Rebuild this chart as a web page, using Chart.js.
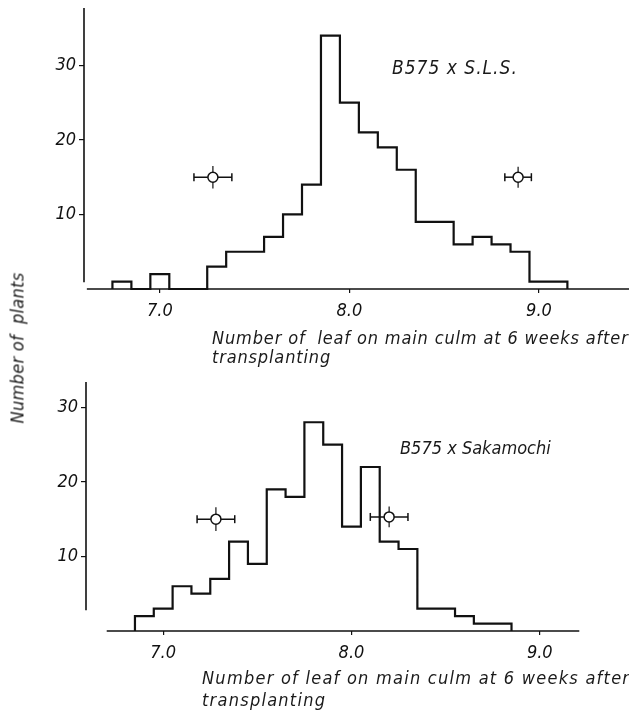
<!DOCTYPE html>
<html>
<head>
<meta charset="utf-8">
<script src="https://cdn.jsdelivr.net/npm/chart.js@4.4.1/dist/chart.umd.min.js"></script>
<style>
  html, body { margin: 0; padding: 0; background: #fff; }
  #page { position: relative; width: 629px; height: 711px; overflow: hidden;
          font-family: "DejaVu Sans Condensed", "Liberation Sans Narrow", sans-serif;
          font-style: italic; color: #1a1a1a; }
  canvas { position: absolute; left: 0; }
  .lbl { position: absolute; white-space: nowrap; font-size: 18px; line-height: 19px; z-index: 2; }
</style>
</head>
<body>
<div id="page">
  <canvas id="top" width="629" height="330" style="top:0"></canvas>
  <canvas id="bot" width="629" height="371" style="top:340px"></canvas>
  <div class="lbl" style="left:392px; top:58px; font-size:19px; letter-spacing:1px;">B575 x S.L.S.</div>
  <div class="lbl" style="left:212px; top:328px; letter-spacing:0.85px;">Number of&nbsp; leaf on main culm at 6 weeks after<br>transplanting</div>
  <div class="lbl" style="left:400px; top:438px;">B575 x Sakamochi</div>
  <div class="lbl" style="left:202px; top:667px; line-height:22px; letter-spacing:1.25px;">Number of leaf on main culm at 6 weeks after<br>transplanting</div>
  <div class="lbl" style="left:17px; top:348px; letter-spacing:0.3px; transform: translate(-50%, -50%) rotate(-90deg);">Number of&nbsp; plants</div>
</div>
<script>
// B575 x S.L.S. (upper panel), bins 0.1 leaf wide
const topBins   = [6.8, 6.9, 7.0, 7.1, 7.2, 7.3, 7.4, 7.5, 7.6, 7.7, 7.8, 7.9,
                   8.0, 8.1, 8.2, 8.3, 8.4, 8.5, 8.6, 8.7, 8.8, 8.9, 9.0, 9.1];
const topCounts = [1, 0, 2, 0, 0, 3, 5, 5, 7, 10, 14, 34,
                   25, 21, 19, 16, 9, 9, 6, 7, 6, 5, 1, 1];
// parent means with their spread
const topMeanX = [7.28, 8.89];
const topMeanY = [15, 15];
const topErrX  = [0.10, 0.07];
const topErrY  = [1.5, 1.4];

// B575 x Sakamochi (lower panel)
const botBins   = [6.9, 7.0, 7.1, 7.2, 7.3, 7.4, 7.5, 7.6, 7.7, 7.8, 7.9,
                   8.0, 8.1, 8.2, 8.3, 8.4, 8.5, 8.6, 8.7, 8.8];
const botCounts = [2, 3, 6, 5, 7, 12, 9, 19, 18, 28, 25,
                   14, 22, 12, 11, 3, 3, 2, 1, 1];
const botMeanX = [7.28, 8.20];
const botMeanY = [15, 15.3];
const botErrX  = [0.10, 0.10];
const botErrY  = [1.6, 1.4];

const xTickVals = [7, 8, 9];
const yTickVals = [10, 20, 30];
const BIN = 0.1;
const INK = '#111';
const tickFont = { family: '"DejaVu Sans Condensed", "Liberation Sans Narrow", sans-serif', size: 18, style: 'italic' };

// histogram outline as a stepped line through the left bin edges
function stepPoints(bins, counts) {
  const pts = [{ x: bins[0] - BIN / 2, y: 0 }];
  bins.forEach((c, i) => pts.push({ x: c - BIN / 2, y: counts[i] }));
  pts.push({ x: bins[bins.length - 1] + BIN / 2, y: 0 });
  return pts;
}

function meanSets(mx, my, ex, ey) {
  const sets = [];
  mx.forEach((m, i) => {
    sets.push({ data: [{ x: m, y: my[i] }], showLine: false, pointRadius: 5,
                pointBackgroundColor: '#fff', pointBorderColor: INK, pointBorderWidth: 1.5, order: 0 });
    sets.push({ data: [{ x: m - ex[i], y: my[i] }, { x: m + ex[i], y: my[i] }],
                borderColor: INK, borderWidth: 1.5, pointStyle: 'line', pointRotation: 90,
                pointRadius: 4, pointBorderColor: INK, pointBorderWidth: 1.5, order: 1 });
    sets.push({ data: [{ x: m, y: my[i] - ey[i] }, { x: m, y: my[i] + ey[i] }],
                borderColor: INK, borderWidth: 1.2, pointRadius: 0, order: 1 });
  });
  return sets;
}

// axis lines that stop short of each other, as in the original figure
const axisLines = {
  id: 'axisLines',
  beforeDatasetsDraw(chart, args, opts) {
    const { ctx, scales: { x, y } } = chart;
    ctx.save();
    ctx.strokeStyle = INK;
    ctx.lineWidth = 1.6;
    ctx.beginPath();
    ctx.moveTo(x.getPixelForValue(opts.xFrom), y.getPixelForValue(0));
    ctx.lineTo(x.getPixelForValue(opts.xTo), y.getPixelForValue(0));
    ctx.moveTo(x.left, y.top);
    ctx.lineTo(x.left, y.getPixelForValue(opts.yFrom));
    ctx.stroke();
    ctx.restore();
  }
};

function noPad(s) {
  s.paddingLeft = 0; s.paddingRight = 0; s.paddingTop = 0; s.paddingBottom = 0;
}

function makeChart(id, bins, counts, means, cfg) {
  return new Chart(document.getElementById(id), {
    type: 'line',
    data: {
      datasets: [
        ...meanSets(...means),
        { data: stepPoints(bins, counts), stepped: true, borderColor: INK, borderWidth: 2.2,
          pointRadius: 0, clip: false, order: 2 }
      ]
    },
    options: {
      responsive: false, animation: false, devicePixelRatio: 1,
      layout: { autoPadding: false, padding: { top: cfg.padTop, left: 0, right: 0, bottom: 0 } },
      plugins: {
        legend: { display: false }, tooltip: { enabled: false },
        axisLines: { xFrom: cfg.xFrom, xTo: cfg.xTo, yFrom: cfg.yFrom }
      },
      scales: {
        x: {
          type: 'linear', min: cfg.xMin, max: cfg.xMax,
          afterBuildTicks: s => { s.ticks = xTickVals.map(v => ({ value: v })); },
          afterFit: s => { s.height = cfg.xHeight; noPad(s); },
          border: { display: false },
          grid: { drawOnChartArea: false, drawTicks: true, tickLength: 4, color: INK, lineWidth: 1.2 },
          ticks: { callback: v => v.toFixed(1), font: tickFont, color: INK, padding: 8, maxRotation: 0 }
        },
        y: {
          type: 'linear', min: 0, max: cfg.yMax,
          afterBuildTicks: s => { s.ticks = yTickVals.map(v => ({ value: v })); },
          afterFit: s => { s.width = cfg.yWidth; noPad(s); },
          border: { display: false },
          grid: { drawOnChartArea: false, drawTicks: true, tickLength: 5, color: INK, lineWidth: 1.2 },
          ticks: { callback: v => String(v), font: tickFont, color: INK, padding: 3 }
        }
      }
    },
    plugins: [axisLines]
  });
}

makeChart('top', topBins, topCounts, [topMeanX, topMeanY, topErrX, topErrY], {
  padTop: 8, xHeight: 41, yWidth: 84, xMin: 6.6, xMax: 9.475, yMax: 37.7,
  xFrom: 6.615, xTo: 9.475, yFrom: 0.9
});
makeChart('bot', botBins, botCounts, [botMeanX, botMeanY, botErrX, botErrY], {
  padTop: 42, xHeight: 80, yWidth: 86, xMin: 6.59, xMax: 9.474, yMax: 33.4,
  xFrom: 6.70, xTo: 9.21, yFrom: 2.8
});
</script>
</body>
</html>
